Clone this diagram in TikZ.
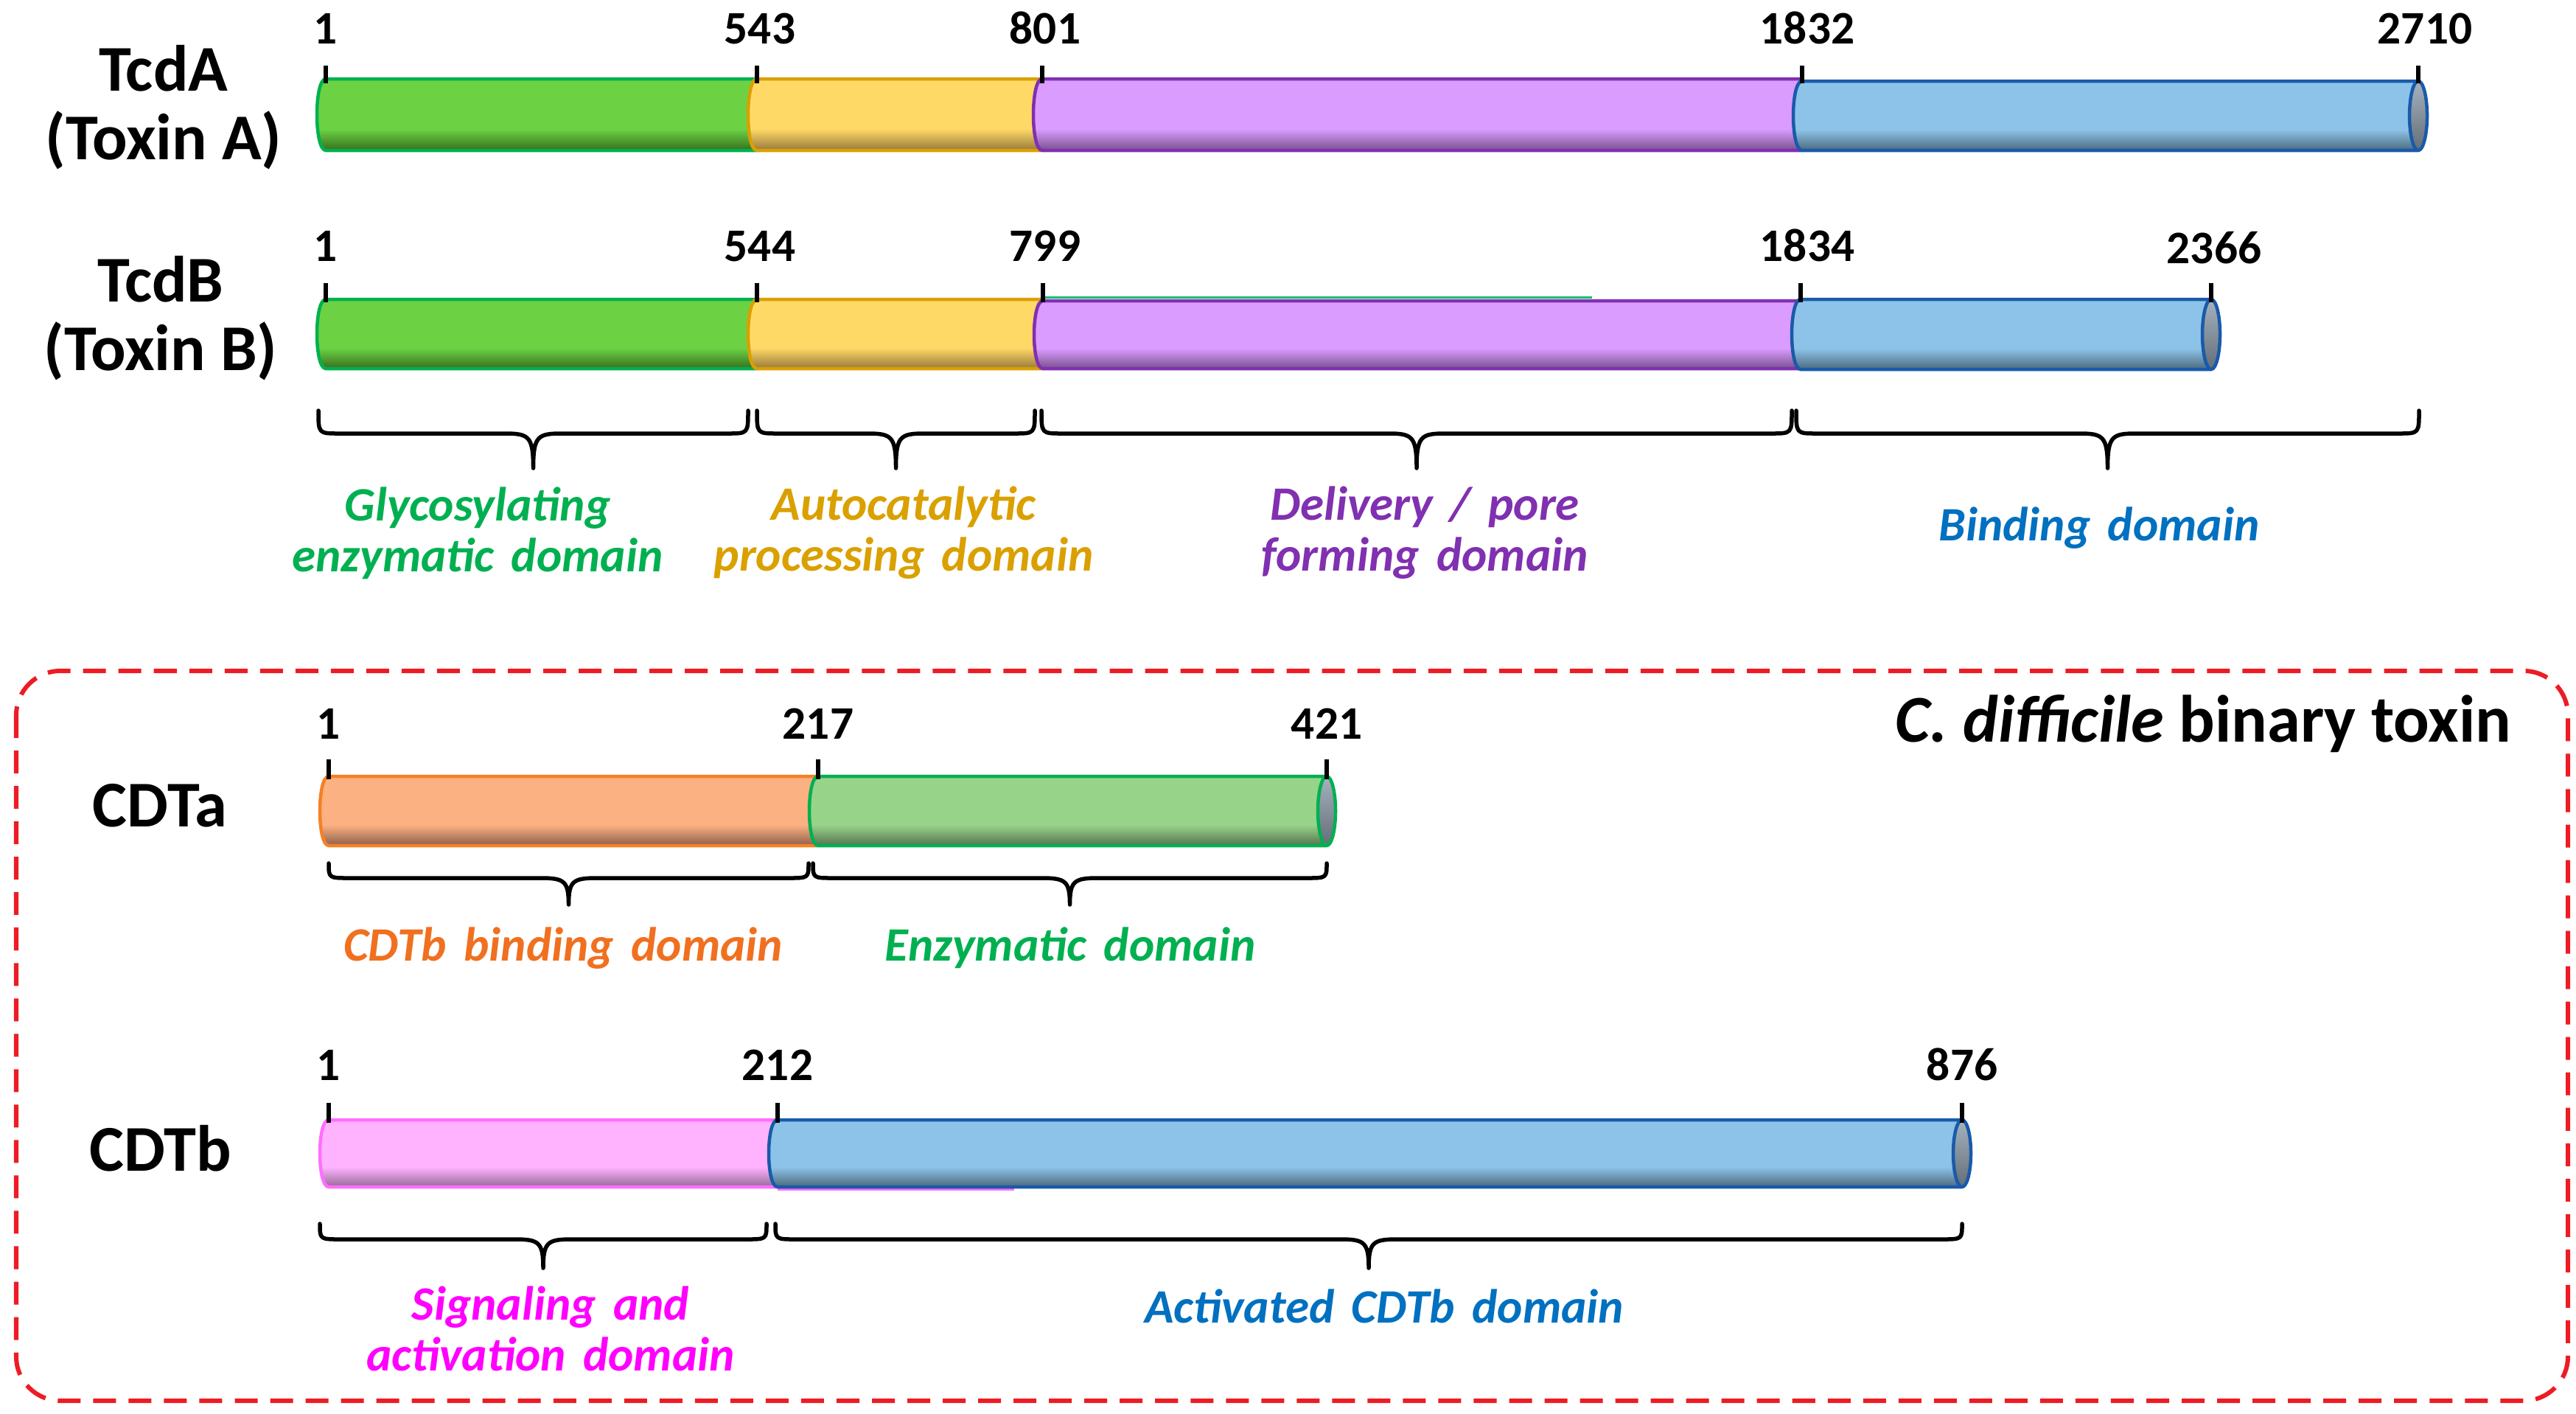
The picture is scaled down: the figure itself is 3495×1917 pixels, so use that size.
\documentclass[tikz,border=0pt]{standalone}
\usepackage{fontspec}
\setmainfont{Carlito}
\usetikzlibrary{calc}

\definecolor{gfill}{RGB}{108,210,68}\definecolor{gdark}{RGB}{55,110,30}\definecolor{gline}{RGB}{0,176,80}
\definecolor{yfill}{RGB}{255,217,102}\definecolor{ydark}{RGB}{150,120,60}\definecolor{yline}{RGB}{218,160,0}
\definecolor{pfill}{RGB}{218,156,255}\definecolor{pdark}{RGB}{120,80,140}\definecolor{pline}{RGB}{128,48,176}
\definecolor{bfill}{RGB}{141,195,232}\definecolor{bdark}{RGB}{75,105,125}\definecolor{bline}{RGB}{25,90,170}
\definecolor{ofill}{RGB}{251,177,130}\definecolor{odark}{RGB}{140,95,75}\definecolor{oline}{RGB}{245,128,37}
\definecolor{lgfill}{RGB}{152,211,138}\definecolor{lgdark}{RGB}{85,115,80}
\definecolor{kfill}{RGB}{255,179,255}\definecolor{kdark}{RGB}{150,105,150}\definecolor{kline}{RGB}{255,110,255}
\definecolor{captop}{RGB}{165,178,190}\definecolor{capbot}{RGB}{100,110,120}
\definecolor{boxred}{RGB}{237,28,36}
\definecolor{tgreen}{RGB}{0,176,80}\definecolor{tyellow}{RGB}{218,160,0}
\definecolor{tpurple}{RGB}{128,48,176}\definecolor{tblue}{RGB}{0,112,192}
\definecolor{torange}{RGB}{240,112,32}\definecolor{tpink}{RGB}{255,0,255}
\definecolor{teal}{RGB}{0,190,110}

\newcommand\mkshade[3]{\pgfdeclareverticalshading{#1}{100bp}{color(0bp)=(#3); color(25bp)=(#3); color(40bp)=(#2); color(100bp)=(#2)}}
\mkshade{gsh}{gfill}{gdark}
\mkshade{ysh}{yfill}{ydark}
\mkshade{psh}{pfill}{pdark}
\mkshade{bsh}{bfill}{bdark}
\mkshade{osh}{ofill}{odark}
\mkshade{lgsh}{lgfill}{lgdark}
\mkshade{ksh}{kfill}{kdark}
\pgfdeclareverticalshading{capsh}{100bp}{color(0bp)=(capbot); color(25bp)=(capbot); color(75bp)=(captop); color(100bp)=(captop)}

\newcommand\widesp{\spaceskip=0.36em\relax}

% segment: x1, x2, ytop, ybot, shading, line colour
\newcommand\seg[6]{%
  \shade[shading=#5] (#1,#3) -- (#2,#3) -- (#2,#4) -- (#1,#4) .. controls (#1-16,#4) and (#1-16,#3) .. (#1,#3) -- cycle;
  \draw[draw=#6, segline] (#2,#3) -- (#1,#3) .. controls (#1-16,#3) and (#1-16,#4) .. (#1,#4) -- (#2,#4);
}
% end cap: x, ytop, ybot, line colour
\newcommand\capend[4]{%
  \shadedraw[shading=capsh, draw=#4, segline] (#1,{(#2+#3)/2}) ellipse [x radius=12, y radius={(#3-#2)/2}];
}
% brace: xa, xb, ytop, arm depth, tip depth
\newcommand\brc[5]{%
  \pgfmathsetmacro\xm{(#1+#2)/2}
  \draw[braceline] (#1,#3) .. controls (#1,#3+#4) .. (#1+28,#3+#4) -- (\xm-38,#3+#4)
    .. controls (\xm-6,#3+#4) and (\xm,#3+#4+4) .. (\xm,#3+#5)
    .. controls (\xm,#3+#4+4) and (\xm+6,#3+#4) .. (\xm+38,#3+#4)
    -- (#2-28,#3+#4) .. controls (#2,#3+#4) .. (#2,#3);
}

\begin{document}
\begin{tikzpicture}[x=0.01cm,y=-0.01cm,
  segline/.style={line width=0.045cm, line join=round},
  tickline/.style={line width=0.06cm, black},
  braceline/.style={line width=0.055cm, black, line cap=round, line join=round},
  protname/.style={font=\fontsize{25.2}{26.5}\selectfont\bfseries, align=center, inner sep=0pt},
  num/.style={font=\fontsize{18}{20}\selectfont\bfseries, anchor=base, inner sep=0pt},
  lbl/.style={font=\fontsize{18.5}{19.6}\selectfont\bfseries\itshape\widesp, align=center, inner sep=0pt}]
\useasboundingbox (0,0) rectangle (3495,1917);

% ---------- TcdA ----------
\node[protname] (tcda) at (222,146) {TcdA\\(Toxin A)};
\seg{442}{1027}{107}{204}{gsh}{gline}
\seg{1027}{1414}{107}{204}{ysh}{yline}
\seg{1414}{2445}{107}{204}{psh}{pline}
\seg{2445}{3281}{110}{204}{bsh}{bline}
\capend{3281}{110}{204}{bline}
\foreach \x in {442,1027,1414,2445,3281} \draw[tickline] (\x,89) -- (\x,113);
\node[num] (a1) at (442,59) {1};
\node[num] (a543) at (1031,59) {543};
\node[num] (a801) at (1418,59) {801};
\node[num] (a1832) at (2452,59) {1832};
\node[num] (a2710) at (3290,59) {2710};

% ---------- TcdB ----------
\node[protname] (tcdb) at (218,432) {TcdB\\(Toxin B)};
\seg{442}{1027}{406}{500}{gsh}{gline}
\seg{1027}{1415}{406}{500}{ysh}{yline}
\seg{1415}{2443}{408}{500}{psh}{pline}
\seg{2443}{3000}{406}{501}{bsh}{bline}
\capend{3000}{406}{501}{bline}
\draw[teal, line width=0.03cm] (1418,403) -- (2160,403);
\foreach \x in {442,1027,1415,2443,3000} \draw[tickline] (\x,384) -- (\x,410);
\node[num] (b1) at (442,354) {1};
\node[num] (b544) at (1031,354) {544};
\node[num] (b799) at (1418,354) {799};
\node[num] (b1834) at (2452,354) {1834};
\node[num] (b2366) at (3004,357) {2366};

% ---------- braces and domain labels (TcdA / TcdB) ----------
\brc{432}{1015}{557}{31}{78}
\brc{1027}{1404}{557}{31}{78}
\brc{1413}{2431}{557}{31}{78}
\brc{2437}{3282}{557}{31}{78}
\node[lbl, text=tgreen] (glyc) at (648,723) {Glycosylating\\enzymatic domain};
\node[lbl, text=tyellow] (auto) at (1226,723) {Autocatalytic\\processing domain};
\node[lbl, text=tpurple] (deliv) at (1933,723) {Delivery / pore\\forming domain};
\node[lbl, text=tblue] (bind) at (2848,716) {Binding domain};

% ---------- binary toxin box ----------
\draw[boxred, line width=0.06cm, dash pattern=on 0.31cm off 0.17cm, rounded corners=0.6cm] (22,910) rectangle (3484,1900);
\node[font=\fontsize{25.8}{27}\selectfont\bfseries, anchor=base east, inner sep=0pt] (bintox) at (3408,1006) {\textit{C. difficile} binary toxin};

% ---------- CDTa ----------
\node[protname] (cdta) at (217,1093) {CDTa};
\seg{446}{1110}{1053}{1147}{osh}{oline}
\seg{1110}{1800}{1053}{1147}{lgsh}{gline}
\capend{1800}{1053}{1147}{gline}
\foreach \x in {446,1110,1800} \draw[tickline] (\x,1030) -- (\x,1057);
\node[num] (c1) at (446,1002) {1};
\node[num] (c217) at (1110,1002) {217};
\node[num] (c421) at (1800,1002) {421};
\brc{446}{1097}{1171}{20}{56}
\brc{1103}{1800}{1171}{20}{56}
\node[lbl, text=torange] (cdtbbind) at (764,1286) {CDTb binding domain};
\node[lbl, text=tgreen] (enz) at (1452,1286) {Enzymatic domain};

% ---------- CDTb ----------
\node[protname] (cdtb) at (218,1558) {CDTb};
\seg{446}{1055}{1519}{1610}{ksh}{kline}
\draw[kline, line width=0.03cm] (1055,1613) -- (1376,1613);
\seg{1055}{2662}{1519}{1610}{bsh}{bline}
\capend{2662}{1519}{1610}{bline}
\foreach \x in {446,1055,2662} \draw[tickline] (\x,1496) -- (\x,1523);
\node[num] (d1) at (446,1465) {1};
\node[num] (d212) at (1055,1465) {212};
\node[num] (d876) at (2662,1465) {876};
\brc{434}{1040}{1660}{21}{60}
\brc{1052}{2662}{1660}{21}{60}
\node[lbl, text=tpink] (sig) at (747,1802) {Signaling and\\activation domain};
\node[lbl, text=tblue] (act) at (1878,1772) {Activated CDTb domain};
\end{tikzpicture}
\end{document}
